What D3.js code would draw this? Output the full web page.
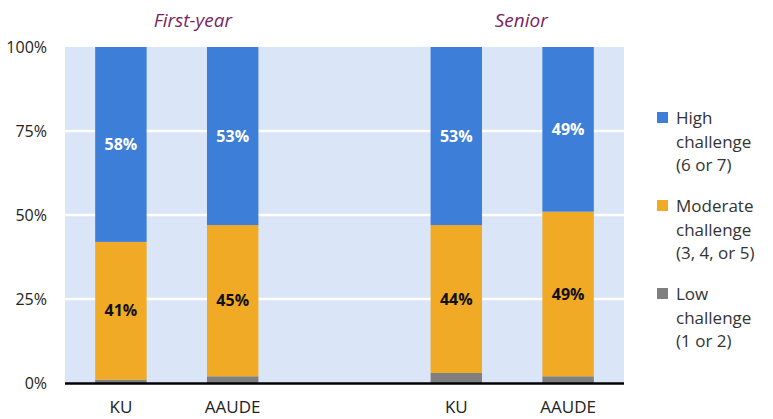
<!DOCTYPE html>
<html lang="en">
<head>
    <meta charset="UTF-8">
    <title>Challenge level by class</title>
    <script src="https://cdnjs.cloudflare.com/ajax/libs/d3/7.9.0/d3.min.js"></script>
    <style>
        body {
            margin: 0;
            background: #fff;
            font-family: "Open Sans", sans-serif;
        }
        .tick text {
            font-family: "Open Sans", sans-serif;
            font-size: 16px;
            fill: #222;
        }
        .bar-label {
            font-size: 16px;
            font-weight: bold;
            text-anchor: middle;
        }
        .group-title {
            font-size: 19px;
            font-style: italic;
            fill: #7b1f5e;
            text-anchor: middle;
        }
        .legend text {
            font-size: 17px;
            fill: #333;
        }
    </style>
</head>
<body>
<div id="chart"></div>
<script>
    // data
    const slots = ["fy-KU", "fy-AAUDE", "gap", "sr-KU", "sr-AAUDE"];
    const barSlots = ["fy-KU", "fy-AAUDE", "sr-KU", "sr-AAUDE"];
    const barNames = ["KU", "AAUDE", "KU", "AAUDE"];
    const lowValues = [1, 2, 3, 2];
    const moderateValues = [41, 45, 44, 49];
    const highValues = [58, 53, 53, 49];
    const groups = ["First-year", "Senior"];
    const groupSlots = [["fy-KU", "fy-AAUDE"], ["sr-KU", "sr-AAUDE"]];
    const yTicks = [0, 25, 50, 75, 100];
    const seriesNames = ["High", "Moderate", "Low"];
    const legendLines = [
        ["High", "challenge", "(6 or 7)"],
        ["Moderate", "challenge", "(3, 4, or 5)"],
        ["Low", "challenge", "(1 or 2)"]
    ];
    const colors = { High: "#3d7ed9", Moderate: "#f0aa25", Low: "#7f7f7f" };

    const width = 773, height = 419;
    const margin = { top: 47, left: 65, right: 149, bottom: 36 };
    const titleShift = [16, 9]; // titles sit a little right of their bar pairs

    const svg = d3.select("#chart").append("svg")
        .attr("width", width)
        .attr("height", height);

    const x = d3.scaleBand()
        .domain(slots)
        .range([margin.left, width - margin.right])
        .paddingInner(0.54)
        .paddingOuter(0.27);

    const y = d3.scaleLinear()
        .domain([0, 100])
        .range([height - margin.bottom, margin.top]);

    // plot background
    svg.append("rect")
        .attr("x", margin.left)
        .attr("y", y(100))
        .attr("width", width - margin.right - margin.left)
        .attr("height", y(0) - y(100))
        .attr("fill", "#dae5f7");

    // gridlines
    svg.append("g")
        .selectAll("line")
        .data(yTicks.filter(d => d > 0 && d < 100))
        .join("line")
        .attr("x1", margin.left)
        .attr("x2", width - margin.right)
        .attr("y1", d => y(d))
        .attr("y2", d => y(d))
        .attr("stroke", "#fff")
        .attr("stroke-width", 2.5);

    // stacks
    const rows = barSlots.map((s, i) => ({
        slot: s, Low: lowValues[i], Moderate: moderateValues[i], High: highValues[i]
    }));
    const stack = d3.stack().keys(["Low", "Moderate", "High"]);
    const layers = stack(rows);

    svg.append("g")
        .selectAll("g")
        .data(layers)
        .join("g")
        .attr("fill", d => colors[d.key])
        .selectAll("rect")
        .data(d => d)
        .join("rect")
        .attr("x", d => x(d.data.slot))
        .attr("width", x.bandwidth())
        .attr("y", d => y(Math.min(d[1], 100)))
        .attr("height", d => y(d[0]) - y(Math.min(d[1], 100)));

    // value labels on high and moderate segments
    layers.filter(l => l.key !== "Low").forEach(l => {
        svg.append("g")
            .selectAll("text")
            .data(l)
            .join("text")
            .attr("class", "bar-label")
            .attr("x", d => x(d.data.slot) + x.bandwidth() / 2)
            .attr("y", d => (y(d[0]) + y(Math.min(d[1], 100))) / 2)
            .attr("dy", "0.35em")
            .attr("fill", l.key === "High" ? "#fff" : "#111")
            .text(d => d.data[l.key] + "%");
    });

    // y axis
    svg.append("g")
        .attr("transform", `translate(${margin.left},0)`)
        .call(d3.axisLeft(y).tickValues(yTicks).tickFormat(d => d + "%").tickSize(0).tickPadding(18))
        .call(g => g.select(".domain").remove());

    // x axis
    const xAxis = svg.append("g")
        .attr("transform", `translate(0,${y(0)})`)
        .call(d3.axisBottom(x)
            .tickValues(barSlots)
            .tickFormat((d, i) => barNames[i])
            .tickSize(0)
            .tickPadding(18));
    xAxis.select(".domain").remove();
    xAxis.selectAll("text").style("font-size", "17px");
    svg.append("line")
        .attr("x1", margin.left)
        .attr("x2", width - margin.right)
        .attr("y1", y(0) + 0.5)
        .attr("y2", y(0) + 0.5)
        .attr("stroke", "#000")
        .attr("stroke-width", 2.5);

    // group titles
    svg.append("g")
        .selectAll("text")
        .data(groups)
        .join("text")
        .attr("class", "group-title")
        .attr("x", (d, i) => {
            const [a, b] = groupSlots[i];
            return (x(a) + x(b) + x.bandwidth()) / 2 + titleShift[i];
        })
        .attr("y", 27)
        .text(d => d);

    // legend
    const legend = svg.append("g")
        .attr("class", "legend")
        .attr("transform", "translate(657,0)");
    const lineH = 23.5;
    const legendTop = [124, 212, 300];
    seriesNames.forEach((name, i) => {
        const g = legend.append("g").attr("transform", `translate(0,${legendTop[i]})`);
        g.append("rect")
            .attr("x", 0)
            .attr("y", -12)
            .attr("width", 11)
            .attr("height", 11)
            .attr("fill", colors[name]);
        g.append("text")
            .selectAll("tspan")
            .data(legendLines[i])
            .join("tspan")
            .attr("x", 19)
            .attr("y", (d, j) => j * lineH)
            .text(d => d);
    });
</script>
</body>
</html>
